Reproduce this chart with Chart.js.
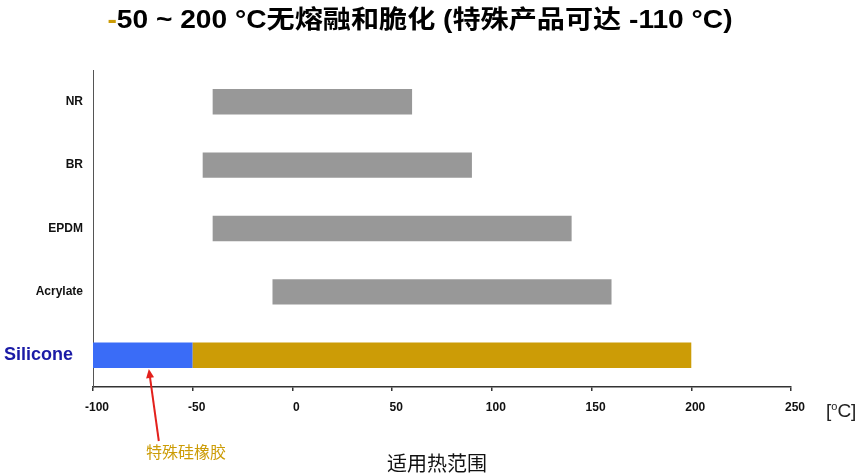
<!DOCTYPE html>
<html>
<head>
<meta charset="utf-8">
<script src="https://cdn.jsdelivr.net/npm/chart.js@4.4.1/dist/chart.umd.min.js"></script>
<style>
  html, body { margin: 0; padding: 0; background: #fff; }
  #wrap { width: 860px; height: 475px; }
</style>
</head>
<body>
<div id="wrap"><canvas id="rangeChart" width="860" height="475"></canvas></div>
<script>
// 材料 / 温度范围 (°C)
const materials = ['NR', 'BR', 'EPDM', 'Acrylate', 'Silicone'];
const rangeLow  = [-40, -45, -40, -10, -50];
const rangeHigh = [60, 90, 140, 160, 200];
// 特殊硅橡胶 extension of Silicone
const specialLow  = [null, null, null, null, -100];
const specialHigh = [null, null, null, null, -50];
const xTicks = [-100, -50, 0, 50, 100, 150, 200, 250];

const GRAY = '#989898';
const GOLD = '#cc9c06';
const BLUE = '#3a6cf7';
const SANS = "'Liberation Sans', Arial, 'Noto Sans CJK SC', sans-serif";
const CJK = "'Noto Sans CJK SC', 'Liberation Sans', sans-serif";

const mainRanges = rangeLow.map((lo, i) => [lo, rangeHigh[i]]);
const specialRanges = specialLow.map((lo, i) => lo === null ? null : [lo, specialHigh[i]]);
const lastIdx = materials.length - 1;

// title + annotations drawn on the canvas
const extras = {
    id: 'extras',
    afterDraw(chart) {
        const { ctx, scales: { x } } = chart;
        ctx.save();

        // title, first dash in gold
        const dash = '-';
        const rest = '50 ~ 200 °C无熔融和脆化 (特殊产品可达 -110 °C)';
        ctx.font = 'bold 25px ' + SANS;
        ctx.textBaseline = 'middle';
        ctx.textAlign = 'left';
        const wDash = ctx.measureText(dash).width;
        const wRest = ctx.measureText(rest).width;
        const targetW = 625;
        const sx = targetW / (wDash + wRest);
        ctx.save();
        ctx.translate(420 - targetW / 2, 21);
        ctx.scale(sx, 1);
        ctx.fillStyle = GOLD;
        ctx.fillText(dash, 0, 0);
        ctx.fillStyle = '#000';
        ctx.fillText(rest, wDash, 0);
        ctx.restore();

        // unit [oC]
        ctx.fillStyle = '#222';
        ctx.font = '19px ' + SANS;
        ctx.textBaseline = 'alphabetic';
        let ux = 826;
        ctx.fillText('[', ux, 417);
        ux += ctx.measureText('[').width;
        ctx.font = '11px ' + SANS;
        ctx.fillText('o', ux, 410);
        ux += ctx.measureText('o').width;
        ctx.font = '19px ' + SANS;
        ctx.fillText('C]', ux, 417);

        // axis title
        ctx.font = '20px ' + CJK;
        ctx.fillStyle = '#111';
        ctx.textAlign = 'center';
        ctx.textBaseline = 'middle';
        ctx.fillText('适用热范围', 437, 463);

        // red arrow to special silicone segment
        const bar = chart.getDatasetMeta(1).data[lastIdx];
        const tipX = x.getPixelForValue(-72);
        const tipY = bar.y + bar.height / 2 + 1;
        const baseX = x.getPixelForValue(-67);
        const baseY = 441;
        const ang = Math.atan2(tipY - baseY, tipX - baseX);
        ctx.strokeStyle = '#e3201c';
        ctx.fillStyle = '#e3201c';
        ctx.lineWidth = 2;
        ctx.beginPath();
        ctx.moveTo(baseX, baseY);
        ctx.lineTo(tipX - 6 * Math.cos(ang), tipY - 6 * Math.sin(ang));
        ctx.stroke();
        ctx.beginPath();
        ctx.moveTo(tipX, tipY);
        ctx.lineTo(tipX - 9 * Math.cos(ang) + 4 * Math.sin(ang), tipY - 9 * Math.sin(ang) - 4 * Math.cos(ang));
        ctx.lineTo(tipX - 9 * Math.cos(ang) - 4 * Math.sin(ang), tipY - 9 * Math.sin(ang) + 4 * Math.cos(ang));
        ctx.closePath();
        ctx.fill();

        // label under arrow
        ctx.font = '16px ' + CJK;
        ctx.fillStyle = GOLD;
        ctx.fillText('特殊硅橡胶', 186, 452);

        ctx.restore();
    }
};

new Chart(document.getElementById('rangeChart'), {
    type: 'bar',
    data: {
        labels: materials,
        datasets: [{
            label: 'range',
            data: mainRanges,
            backgroundColor: materials.map((m, i) => i === lastIdx ? GOLD : GRAY),
            grouped: false,
            borderWidth: 0,
            categoryPercentage: 1,
            barPercentage: 0.4
        }, {
            label: 'special',
            data: specialRanges,
            backgroundColor: BLUE,
            grouped: false,
            borderWidth: 0,
            categoryPercentage: 1,
            barPercentage: 0.4
        }]
    },
    options: {
        indexAxis: 'y',
        responsive: false,
        animation: false,
        devicePixelRatio: 1,
        layout: { padding: { left: 0, right: 69, top: 70, bottom: 58 } },
        plugins: {
            legend: { display: false },
            tooltip: { enabled: false }
        },
        scales: {
            x: {
                min: xTicks[0],
                max: xTicks[xTicks.length - 1],
                afterBuildTicks: s => { s.ticks = xTicks.map(v => ({ value: v })); },
                afterFit: s => { s.height = 30; },
                grid: { drawOnChartArea: false, drawTicks: true, tickLength: 4, color: '#333', lineWidth: 1.5 },
                border: { color: '#333', width: 1.5 },
                ticks: {
                    padding: 9,
                    labelOffset: 4,
                    color: '#111',
                    font: { family: SANS, weight: 'bold', size: 12 }
                }
            },
            y: {
                afterFit: s => { s.width = 93; },
                grid: { drawOnChartArea: false, drawTicks: false },
                border: { color: '#555', width: 1 },
                ticks: {
                    padding: 10,
                    // Silicone sits a bit further from the axis
                    callback: (v, i) => i === lastIdx ? materials[i] + '  ' : materials[i],
                    color: ctx => ctx.index === lastIdx ? '#1b1ba6' : '#111',
                    font: ctx => ctx.index === lastIdx
                        ? { family: SANS, weight: 'bold', size: 18 }
                        : { family: SANS, weight: 'bold', size: 12 }
                }
            }
        }
    },
    plugins: [extras]
});
</script>
</body>
</html>
